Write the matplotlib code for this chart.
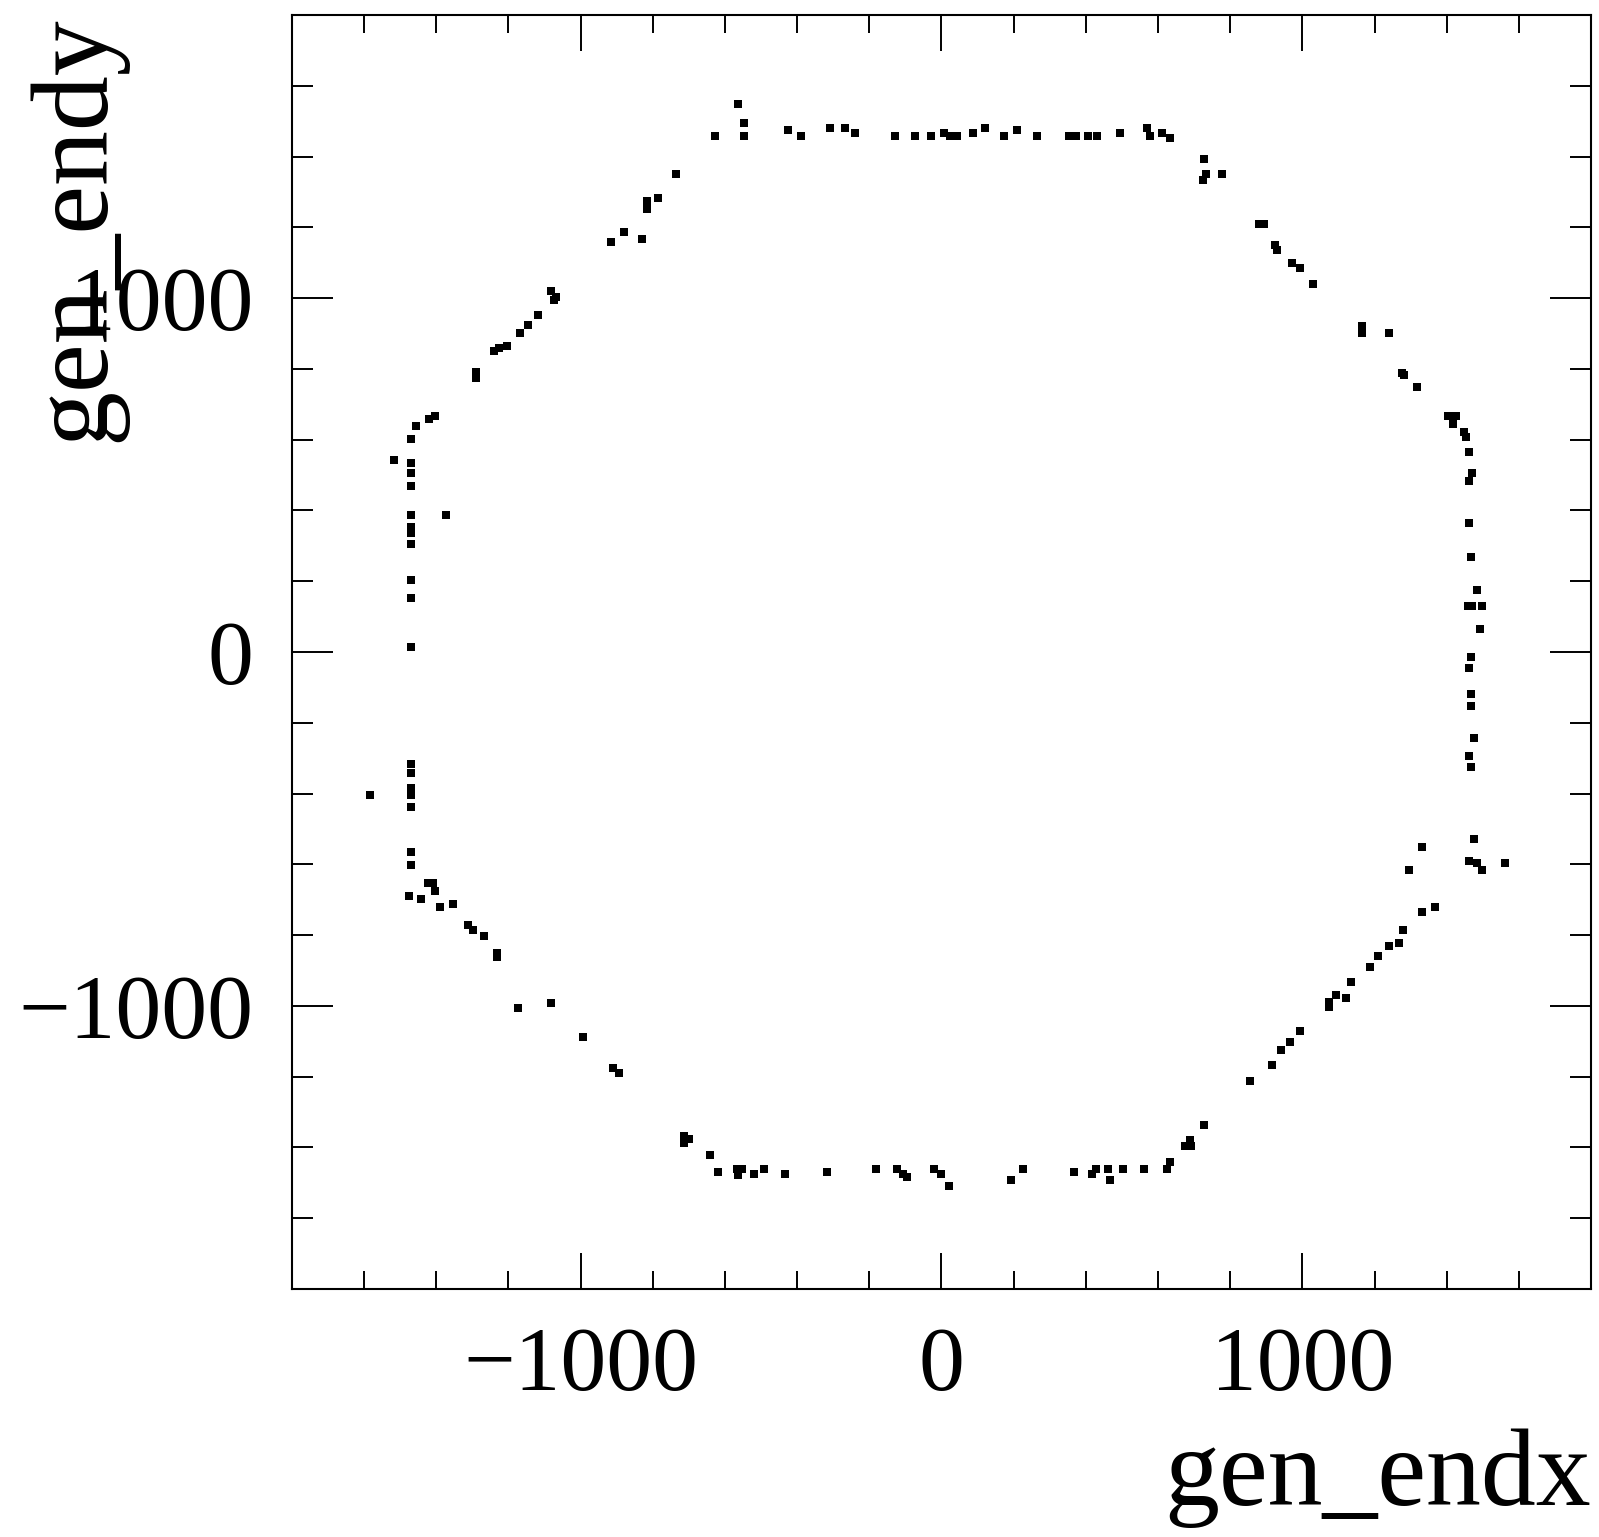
import matplotlib
matplotlib.use("Agg")
import matplotlib.pyplot as plt
from matplotlib.ticker import MultipleLocator

# Particle end-point positions (transverse plane)
gen_endx = [
    -627, -563, -548, -548, -426, -389, -310, -267, -239, -130, -73, -30, 6, 24, 44,
    87, 121, 172, 209, 265, 352, 373, 405, 430, 496, 570, 577, 611, 632,
    727, 734, 726, 777,
    881, 895, 923, 929, 972, 994, 1029, 1166, 1166, 1239, 1276, 1283, 1317,
    1403, 1427, 1417, 1447, 1454, 1461, 1470, 1461, 1461, 1468, 1484, 1458, 1471,
    1497, 1491, 1468, 1461, 1468, 1468, 1477, 1461, 1468,
    1475, 1461, 1485, 1497, 1562, 1331, 1295, 1367, 1331, 1280, 1267, 1239, 1209,
    1188, 1136, 1094, 1122, 1073, 1073, 993, 965, 942, 915, 856, 727, 690, 675,
    692, 632, 624,
    -713, -713, -700, -641, -619, -567, -552, -564, -520, -491, -433, -317, -181,
    -124, -108, -95, -22, -1, 20, 192, 225, 367, 418, 428, 461, 468, 504, 562,
    -1471, -1471, -1424, -1410, -1405, -1477, -1442, -1391, -1354, -1313, -1297,
    -1269, -1233, -1233, -1174, -1082, -994, -909, -894,
    -1516, -1469, -1471, -1469, -1471, -1374, -1469, -1469, -1469, -1469, -1469,
    -1471, -1469, -1469, -1469, -1469, -1583, -1469,
    -735, -786, -816, -816, -881, -915, -830, -1082, -1068, -1075, -1117, -1147,
    -1168, -1204, -1225, -1241, -1291, -1291, -1405, -1421, -1456, -1470,
]
gen_endy = [
    1459, 1548, 1496, 1459, 1474, 1459, 1482, 1482, 1467, 1459, 1459, 1459, 1467, 1459, 1459,
    1467, 1482, 1459, 1474, 1459, 1459, 1459, 1459, 1459, 1467, 1482, 1459, 1467, 1452,
    1393, 1350, 1334, 1350,
    1209, 1209, 1150, 1136, 1100, 1084, 1040, 922, 901, 901, 789, 783, 748,
    668, 668, 644, 623, 608, 564, 507, 484, 365, 269, 175, 130, 130,
    130, 64, -15, -46, -119, -153, -244, -294, -324,
    -529, -590, -595, -617, -595, -551, -617, -721, -735, -786, -823, -831, -859,
    -889, -933, -969, -978, -990, -1002, -1072, -1101, -1124, -1168, -1212, -1337, -1379, -1395,
    -1395, -1440, -1461,
    -1368, -1388, -1375, -1421, -1469, -1461, -1461, -1479, -1476, -1461, -1476, -1469, -1461,
    -1461, -1476, -1484, -1461, -1476, -1509, -1492, -1461, -1469, -1476, -1461, -1461, -1492, -1461, -1461,
    -566, -603, -654, -654, -675, -690, -698, -721, -713, -771, -786,
    -802, -850, -863, -1007, -992, -1088, -1175, -1190,
    542, 534, 505, 469, 387, 387, 352, 336, 306, 204, 153,
    14, -316, -341, -384, -404, -405, -438,
    1350, 1283, 1275, 1252, 1188, 1159, 1166, 1021, 1004, 995, 953, 924,
    901, 865, 858, 850, 792, 775, 667, 659, 638, 601,
]

x_range = (-1800, 1800)
y_range = (-1800, 1800)

plt.rcParams["font.family"] = ["Liberation Serif", "DejaVu Serif"]
plt.rcParams["axes.unicode_minus"] = True

fig = plt.figure(figsize=(15.99, 15.37), dpi=100)
ax = fig.add_axes([0.1826, 0.1614, 0.8124, 0.8288])

ax.plot(gen_endx, gen_endy, linestyle="none", marker="s", markersize=5.8,
        markeredgewidth=0, color="black")

ax.set_xlim(*x_range)
ax.set_ylim(*y_range)

for axis in (ax.xaxis, ax.yaxis):
    axis.set_major_locator(MultipleLocator(1000))
    axis.set_minor_locator(MultipleLocator(200))

for side in ax.spines.values():
    side.set_linewidth(1.5)

ax.tick_params(axis="both", which="both", direction="in", top=True, right=True,
               width=1.4, labelsize=66)
ax.tick_params(axis="x", which="major", length=26, pad=27)
ax.tick_params(axis="x", which="minor", length=13)
ax.tick_params(axis="y", which="major", length=29.5, pad=28)
ax.tick_params(axis="y", which="minor", length=15)

fig.text(0.995, 0.0205, "gen_endx", ha="right", va="baseline", fontsize=79)
fig.text(0.0165, 0.990, "gen_endy", ha="left", va="top", rotation=90, fontsize=79)

fig.savefig("out.png", dpi=100)
